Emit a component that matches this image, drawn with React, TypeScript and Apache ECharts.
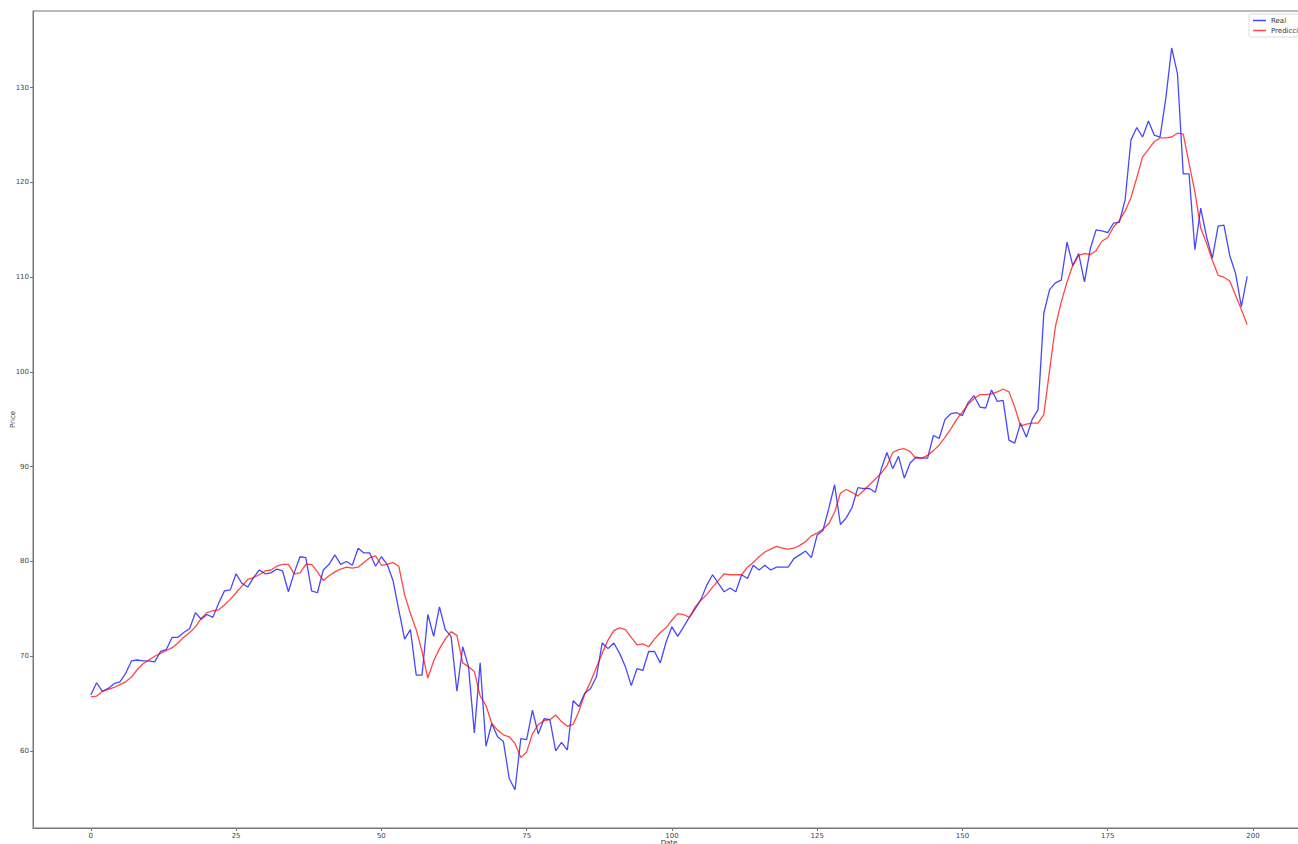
import React, { useEffect, useRef } from "react";
import * as echarts from "echarts";

const realValues: number[] = [
  65.9, 67.2, 66.3, 66.6, 67.1, 67.3, 68.2, 69.5, 69.6, 69.5,
  69.5, 69.4, 70.5, 70.7, 72.0, 72.0, 72.5, 72.9, 74.6, 73.9,
  74.4, 74.1, 75.6, 76.9, 77.0, 78.7, 77.7, 77.3, 78.3, 79.1,
  78.7, 78.8, 79.2, 79.0, 76.8, 78.8, 80.5, 80.4, 76.9, 76.7,
  79.1, 79.7, 80.7, 79.7, 80.0, 79.6, 81.4, 80.9, 80.9, 79.5,
  80.5, 79.7, 78.0, 74.9, 71.8, 72.8, 68.0, 68.0, 74.4, 72.1,
  75.2, 72.8, 72.1, 66.3, 71.0, 68.9, 61.9, 69.3, 60.5, 62.9,
  61.5, 61.0, 57.1, 55.9, 61.3, 61.2, 64.3, 61.8, 63.4, 63.3,
  60.0, 60.9, 60.1, 65.3, 64.7, 66.1, 66.6, 67.8, 71.4, 70.8,
  71.4, 70.3, 68.9, 66.9, 68.7, 68.5, 70.5, 70.5, 69.3, 71.5,
  73.1, 72.1, 73.1, 74.1, 75.0, 76.0, 77.5, 78.6, 77.7, 76.8,
  77.2, 76.8, 78.6, 78.2, 79.6, 79.1, 79.6, 79.1, 79.4, 79.4,
  79.4, 80.3, 80.7, 81.1, 80.4, 82.8, 83.3, 85.6, 88.1, 83.9,
  84.6, 85.7, 87.8, 87.7, 87.7, 87.3, 89.7, 91.5, 89.8, 91.1,
  88.8, 90.4, 91.0, 90.9, 90.9, 93.3, 93.0, 95.0, 95.6, 95.7,
  95.4, 96.8, 97.5, 96.3, 96.2, 98.1, 96.9, 97.0, 92.8, 92.5,
  94.6, 93.1, 95.0, 96.0, 106.2, 108.7, 109.4, 109.7, 113.7, 111.2,
  112.5, 109.5, 113.0, 115.0, 114.9, 114.7, 115.7, 115.8, 118.2, 124.5,
  125.8, 124.8, 126.5, 125.0, 124.8, 128.9, 134.2, 131.5, 120.9, 120.9,
  112.9, 117.3, 114.3, 112.0, 115.4, 115.5, 112.3, 110.4, 106.9, 110.1,
];

const predictedValues: number[] = [
  65.7, 65.8, 66.3, 66.5, 66.7, 67.0, 67.3, 67.8, 68.6, 69.2,
  69.6, 70.0, 70.3, 70.6, 70.9, 71.4, 72.0, 72.5, 73.1, 74.0,
  74.6, 74.8, 74.9, 75.4, 76.0, 76.7, 77.4, 78.1, 78.3, 78.6,
  79.0, 79.1, 79.5, 79.7, 79.7, 78.7, 78.8, 79.7, 79.7, 78.9,
  78.0, 78.5, 78.9, 79.2, 79.4, 79.3, 79.4, 79.9, 80.4, 80.6,
  79.6, 79.7, 79.9, 79.5, 76.5, 74.5, 72.8, 70.5, 67.7, 69.5,
  70.8, 71.8, 72.6, 72.2, 69.3, 68.9, 68.4, 65.8, 64.8, 62.9,
  62.2, 61.7, 61.5, 60.8, 59.3, 59.9, 61.8, 62.8, 63.2, 63.3,
  63.8, 63.1, 62.6, 62.8, 64.2, 66.0, 67.3, 68.8, 70.3, 71.7,
  72.7, 73.0, 72.8, 72.0, 71.2, 71.3, 71.0, 71.8, 72.5, 73.0,
  73.8, 74.5, 74.4, 74.1, 75.2, 75.9, 76.5, 77.3, 78.0, 78.7,
  78.6, 78.6, 78.6, 79.4, 79.9, 80.5, 81.0, 81.3, 81.6, 81.4,
  81.3, 81.4, 81.7, 82.1, 82.7, 83.0, 83.4, 84.0, 85.2, 87.2,
  87.6, 87.3, 86.9, 87.5, 88.1, 88.7, 89.3, 90.1, 91.5, 91.8,
  91.9, 91.6, 90.9, 90.9, 91.2, 91.7, 92.3, 93.1, 94.0, 95.0,
  95.8, 96.6, 97.2, 97.6, 97.6, 97.7, 97.9, 98.2, 97.9, 96.3,
  94.3, 94.5, 94.6, 94.6, 95.5, 100.2, 104.8, 107.4, 109.5, 111.3,
  112.3, 112.5, 112.4, 112.8, 113.8, 114.2, 115.3, 116.0, 117.0, 118.4,
  120.5, 122.7, 123.5, 124.3, 124.7, 124.7, 124.8, 125.2, 125.1, 122.0,
  119.0, 115.2, 113.6, 111.8, 110.2, 110.0, 109.6, 108.1, 106.6, 105.0,
];

const xTickValues: number[] = [0, 25, 50, 75, 100, 125, 150, 175, 200];
const yTickValues: number[] = [60, 70, 80, 90, 100, 110, 120, 130];
const seriesNames: string[] = ["Real", "Predicción"];

export default function App() {
  const ref = useRef<HTMLDivElement>(null);

  useEffect(() => {
    if (!ref.current) return;
    const chart = echarts.init(ref.current, undefined, { renderer: "svg" });
    const realData = realValues.map((v, i) => [i, v]);
    const predData = predictedValues.map((v, i) => [i, v]);
    const tickLabel = { fontSize: 7, color: "#444", fontFamily: "DejaVu Sans" };
    chart.setOption({
      animation: false,
      backgroundColor: "#fff",
      grid: {
        left: 33,
        top: 11,
        right: 15,
        bottom: 32,
        show: true,
        borderColor: "#777",
        borderWidth: 1,
        containLabel: false,
        outerBoundsMode: "none",
      },
      legend: {
        orient: "vertical",
        left: 1249,
        top: 14,
        data: seriesNames,
        icon: "rect",
        itemWidth: 13,
        itemHeight: 1.5,
        itemGap: 3,
        padding: [3, 4, 3, 4],
        borderColor: "#ddd",
        borderWidth: 1,
        borderRadius: 2,
        backgroundColor: "#fff",
        textStyle: { fontSize: 7, color: "#333", fontFamily: "DejaVu Sans" },
      },
      xAxis: {
        type: "value",
        min: -9.95,
        max: 208.95,
        name: "Date",
        nameLocation: "middle",
        nameGap: 11,
        nameMoveOverlap: false,
        nameTextStyle: { fontSize: 7, color: "#333", fontFamily: "DejaVu Sans" },
        axisLine: { show: true, onZero: false, lineStyle: { color: "#777" } },
        axisTick: {
          show: true,
          customValues: xTickValues,
          length: 3,
          lineStyle: { color: "#777" },
        },
        axisLabel: { customValues: xTickValues, margin: 4, ...tickLabel },
        splitLine: { show: false },
      },
      yAxis: {
        type: "value",
        min: 51.87,
        max: 138.1,
        name: "Price",
        nameLocation: "middle",
        nameGap: 17,
        nameMoveOverlap: false,
        nameRotate: 90,
        nameTextStyle: { fontSize: 7, color: "#333", fontFamily: "DejaVu Sans" },
        axisLine: { show: true, onZero: false, lineStyle: { color: "#777" } },
        axisTick: {
          show: true,
          customValues: yTickValues,
          length: 3,
          lineStyle: { color: "#777" },
        },
        axisLabel: { customValues: yTickValues, margin: 4, ...tickLabel },
        splitLine: { show: false },
      },
      series: [
        {
          name: seriesNames[0],
          type: "line",
          data: realData,
          showSymbol: false,
          symbol: "none",
          lineStyle: { color: "rgba(0,0,255,0.72)", width: 1.3 },
          itemStyle: { color: "rgba(0,0,255,0.72)" },
        },
        {
          name: seriesNames[1],
          type: "line",
          data: predData,
          showSymbol: false,
          symbol: "none",
          lineStyle: { color: "rgba(255,0,0,0.72)", width: 1.3 },
          itemStyle: { color: "rgba(255,0,0,0.72)" },
        },
      ],
    });
    return () => chart.dispose();
  }, []);

  return (
    <div
      style={{
        position: "fixed",
        left: 0,
        top: 0,
        width: 1298,
        height: 844,
        overflow: "hidden",
        background: "#fff",
      }}
    >
      <div ref={ref} style={{ width: 1320, height: 860 }} />
    </div>
  );
}
